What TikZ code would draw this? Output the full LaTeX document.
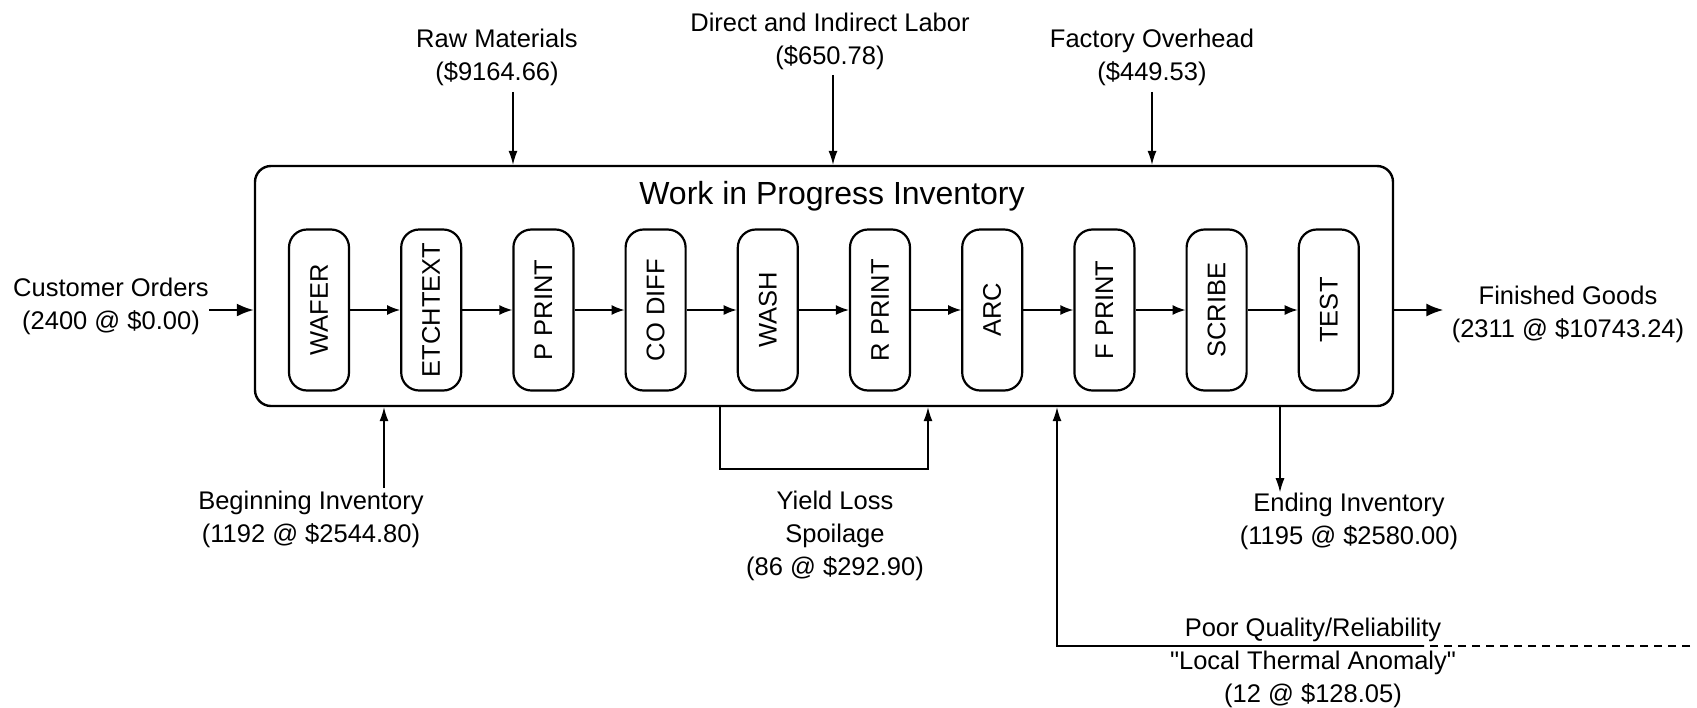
\documentclass[tikz,border=0pt]{standalone}
\usepackage{fontspec}
\setmainfont{Liberation Sans}[Ligatures=TeXOff]
\usetikzlibrary{arrows.meta}
\begin{document}
\begin{tikzpicture}[x=0.5pt,y=-0.5pt,
  lbl/.style={align=center,inner sep=0pt,font=\fontsize{12.75}{16.5}\selectfont},
  stage/.style={draw,line width=1.1pt,rounded corners=9pt,rotate=90,
    minimum width=80.5pt,minimum height=30pt,inner sep=0pt,
    font=\fontsize{12.75}{15}\selectfont},
  wipbox/.style={draw,line width=1.2pt,rounded corners=8pt,
    minimum width=569pt,minimum height=120pt,inner sep=0pt},
  flow/.style={line width=0.75pt,-{Latex[length=6.5pt,width=5pt]}},
  bigflow/.style={line width=1.1pt,-{Latex[length=8.5pt,width=6.5pt]}},
  feed/.style={line width=0.6pt,-{Latex[length=7pt,width=4.5pt]}},
  plain/.style={line width=0.6pt}]
\useasboundingbox (0,0) rectangle (1697,707);

% work in progress container
\node[wipbox] (wip) at (824,286) {};
\node[anchor=base,inner sep=0pt,font=\fontsize{16}{19}\selectfont] (title) at (832,204) {Work in Progress Inventory};

% process stages
\node[stage] (s1)  at (319.0,310) {WAFER};
\node[stage] (s2)  at (431.2,310) {ETCHTEXT};
\node[stage] (s3)  at (543.4,310) {P PRINT};
\node[stage] (s4)  at (655.6,310) {CO DIFF};
\node[stage] (s5)  at (767.8,310) {WASH};
\node[stage] (s6)  at (880.0,310) {R PRINT};
\node[stage] (s7)  at (992.2,310) {ARC};
\node[stage] (s8)  at (1104.4,310) {F PRINT};
\node[stage] (s9)  at (1216.6,310) {SCRIBE};
\node[stage] (s10) at (1328.8,310) {TEST};
\foreach \a/\b in {s1/s2,s2/s3,s3/s4,s4/s5,s5/s6,s6/s7,s7/s8,s8/s9,s9/s10}
  \draw[flow] (\a) -- (\b);

% labels
\node[lbl] (co) at (111,306) {Customer Orders\\(2400 @ \$0.00)};
\node[lbl] (fg) at (1568,314) {Finished Goods\\(2311 @ \$10743.24)};
\node[lbl] (rm) at (497,57) {Raw Materials\\(\$9164.66)};
\node[lbl] (lab) at (830,41) {Direct and Indirect Labor\\(\$650.78)};
\node[lbl] (fo) at (1152,57) {Factory Overhead\\(\$449.53)};
\node[lbl] (bi) at (311,519) {Beginning Inventory\\(1192 @ \$2544.80)};
\node[lbl] (yl) at (835,536) {Yield Loss\\Spoilage\\(86 @ \$292.90)};
\node[lbl] (ei) at (1349,521) {Ending Inventory\\(1195 @ \$2580.00)};
\node[lbl] (pq) at (1313,663) {Poor Quality/Reliability\\"Local Thermal Anomaly"\\(12 @ \$128.05)};

% positions of the feeds along the container edges
\coordinate (rmx) at (513,0);
\coordinate (labx) at (833,0);
\coordinate (fox) at (1152,0);
\coordinate (bix) at (384,0);
\coordinate (ylout) at (720,469);
\coordinate (ylin) at (928,469);
\coordinate (eix) at (1280,0);
\coordinate (pqin) at (1057,646);
\coordinate (pqsolid) at (1424,646);
\coordinate (pqend) at (1690,646);

% main flow in and out
\draw[bigflow] (co.east |- s1) -- (wip.west |- s1);
\draw[bigflow] (wip.east |- s10) -- ([xshift=-4pt]fg.west |- s10);

% cost inputs from above
\draw[feed] ([yshift=-3pt]rm.south -| rmx) -- (wip.north -| rmx);
\draw[feed] ([yshift=-2.5pt]lab.south -| labx) -- (wip.north -| labx);
\draw[feed] ([yshift=-3pt]fo.south -| fox) -- (wip.north -| fox);

% inventory in and out below
\draw[feed] ([yshift=1pt]bi.north -| bix) -- (wip.south -| bix);
\draw[feed] (wip.south -| eix) -- (ei.north -| eix);

% yield loss loop
\draw[feed] (wip.south -| ylout) -- (ylout) -- (ylin) -- (wip.south -| ylin);

% quality return
\draw[plain,dashed,dash pattern=on 4pt off 3pt] (pqend) -- (pqsolid);
\draw[feed] (pqsolid) -- (pqin) -- (wip.south -| pqin);
\end{tikzpicture}
\end{document}
